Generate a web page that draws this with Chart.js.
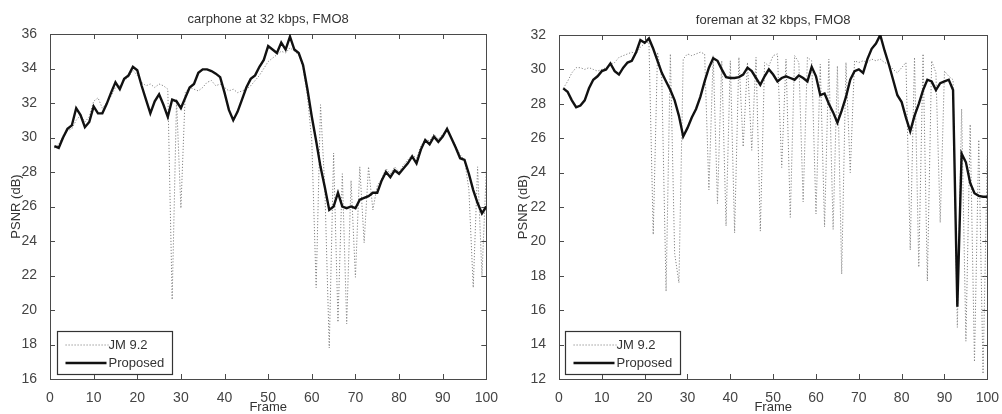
<!DOCTYPE html>
<html>
<head>
<meta charset="utf-8">
<script src="https://cdn.jsdelivr.net/npm/chart.js@4.4.1/dist/chart.umd.min.js"></script>
<style>
  body { margin: 0; background: #fff; }
  #wrap { position: relative; width: 1002px; height: 414px; }
  canvas { position: absolute; top: 0; }
  #c1 { left: 0; }
  #c2 { left: 501px; }
</style>
</head>
<body>
<div id="wrap">
  <canvas id="c1" width="501" height="414"></canvas>
  <canvas id="c2" width="501" height="414"></canvas>
</div>
<script>
var FONT = "'Liberation Sans', Arial, sans-serif";

// frame numbers 1..100
var frames = [];
for (var i = 1; i <= 100; i++) frames.push(i);

// carphone at 32 kbps, FMO8
var carphoneJM = [29.4, 29.6, 30.1, 30.4, 30.5, 31.0, 31.3, 30.9, 31.2, 32.1,
  32.3, 31.7, 32.0, 32.4, 32.9, 33.0, 33.3, 33.5, 33.9, 33.6,
  33.2, 33.0, 33.1, 32.9, 33.1, 33.0, 32.8, 20.6, 32.2, 25.9,
  32.6, 32.9, 32.8, 32.7, 32.9, 33.2, 33.3, 33.0, 33.1, 32.9,
  32.7, 32.8, 32.6, 32.7, 32.8, 33.0, 33.3, 33.6, 34.0, 34.4,
  34.6, 34.8, 35.0, 34.9, 35.2, 35.0, 34.8, 34.0, 32.4, 29.8,
  21.3, 31.9, 27.0, 17.8, 29.1, 19.3, 27.9, 19.2, 27.5, 21.9,
  28.3, 23.9, 28.3, 25.8, 27.2, 27.6, 28.2, 27.9, 28.3, 28.0,
  28.4, 28.7, 29.0, 28.8, 29.5, 29.9, 29.8, 30.2, 29.9, 30.2,
  30.4, 30.0, 29.5, 29.0, 28.7, 27.0, 21.3, 28.3, 22.0, 28.1];
var carphoneProposed = [29.5, 29.4, 30.0, 30.5, 30.7, 31.7, 31.3, 30.6, 30.9, 31.8,
  31.4, 31.4, 31.95, 32.6, 33.2, 32.8, 33.4, 33.6, 34.1, 33.9,
  33.0, 32.2, 31.4, 32.1, 32.5, 31.9, 31.2, 32.2, 32.1, 31.7,
  32.3, 32.9, 33.1, 33.75, 33.95, 33.95, 33.85, 33.7, 33.5, 32.6,
  31.6, 31.0, 31.5, 32.2, 32.9, 33.4, 33.6, 34.1, 34.5, 35.3,
  35.1, 34.9, 35.5, 35.1, 35.85, 35.1, 34.9, 34.2, 32.8, 31.2,
  29.8, 28.3, 27.1, 25.8, 26.0, 26.8, 26.0, 25.9, 26.0, 25.9,
  26.4, 26.5, 26.6, 26.8, 26.8, 27.5, 28.0, 27.7, 28.1, 27.9,
  28.2, 28.5, 28.9, 28.5, 29.3, 29.85, 29.6, 30.05, 29.75, 30.05,
  30.5, 29.95, 29.4, 28.8, 28.7, 27.9, 26.95, 26.2, 25.6, 26.0];

// foreman at 32 kbps, FMO8
var foremanJM = [28.9, 29.3, 29.8, 30.1, 30.1, 30.0, 30.1, 30.0, 29.9, 30.0,
  30.1, 30.3, 30.4, 30.7, 30.8, 30.9, 31.0, 30.9, 31.3, 31.5,
  31.6, 20.4, 31.0, 29.5, 17.1, 30.9, 19.3, 17.6, 30.6, 30.9,
  30.8, 30.9, 31.0, 30.9, 23.0, 30.8, 22.2, 30.5, 20.9, 30.5,
  20.5, 30.7, 25.5, 30.4, 25.3, 30.7, 20.6, 30.4, 30.2, 30.8,
  30.9, 24.3, 30.6, 21.4, 30.8, 30.4, 22.3, 30.7, 30.5, 21.6,
  30.3, 20.85, 30.6, 20.7, 30.2, 18.1, 30.4, 24.0, 30.5, 30.4,
  30.5, 30.4, 30.6, 30.5, 30.6, 30.4, 30.3, 30.0, 29.8, 30.1,
  30.4, 19.5, 30.7, 18.5, 30.9, 17.7, 30.5, 29.8, 21.1, 29.9,
  29.6, 29.4, 15.0, 27.7, 14.2, 26.8, 13.0, 25.9, 12.3, 25.0];
var foremanProposed = [28.9, 28.7, 28.2, 27.8, 27.9, 28.2, 28.9, 29.4, 29.6, 29.9,
  30.0, 30.35, 29.9, 29.7, 30.1, 30.4, 30.5, 31.0, 31.7, 31.55,
  31.8, 31.2, 30.5, 29.8, 29.3, 28.8, 28.2, 27.3, 26.1, 26.6,
  27.2, 27.7, 28.4, 29.3, 30.1, 30.65, 30.5, 30.0, 29.55, 29.5,
  29.5, 29.55, 29.7, 30.1, 29.9, 29.5, 29.1, 29.6, 30.0, 29.7,
  29.3, 29.5, 29.6, 29.5, 29.4, 29.65, 29.5, 29.3, 30.15, 29.6,
  28.5, 28.6, 28.0, 27.5, 26.9, 27.6, 28.4, 29.4, 29.9, 30.0,
  29.8, 30.6, 31.2, 31.5, 32.0, 31.1, 30.3, 29.4, 28.5, 28.1,
  27.2, 26.4, 27.3, 28.0, 28.8, 29.4, 29.3, 28.8, 29.2, 29.3,
  29.4, 28.8, 16.2, 25.1, 24.6, 23.4, 22.8, 22.65, 22.6, 22.6];

var seriesNames = ['JM 9.2', 'Proposed'];

function pts(vals) {
  return vals.map(function(v, k) { return {x: frames[k], y: v}; });
}

// box around the plot with inward tick marks on all four sides
var boxPlugin = {
  id: 'box',
  beforeDatasetsDraw: function(chart) {
    var ctx = chart.ctx, a = chart.chartArea;
    var xs = chart.scales.x, ys = chart.scales.y;
    ctx.save();
    ctx.strokeStyle = '#4a4a4a';
    ctx.lineWidth = 1;
    ctx.strokeRect(Math.round(a.left) + 0.5, Math.round(a.top) + 0.5,
      Math.round(a.right - a.left), Math.round(a.bottom - a.top));
    ctx.beginPath();
    xs.ticks.forEach(function(t) {
      var px = Math.round(xs.getPixelForValue(t.value)) + 0.5;
      ctx.moveTo(px, a.bottom); ctx.lineTo(px, a.bottom - 5);
      ctx.moveTo(px, a.top); ctx.lineTo(px, a.top + 5);
    });
    ys.ticks.forEach(function(t) {
      var py = Math.round(ys.getPixelForValue(t.value)) + 0.5;
      ctx.moveTo(a.left, py); ctx.lineTo(a.left + 5, py);
      ctx.moveTo(a.right, py); ctx.lineTo(a.right - 5, py);
    });
    ctx.stroke();
    ctx.restore();
  }
};

// legend box in the lower left corner of the plot
var legendBox = {
  id: 'legendBox',
  afterDatasetsDraw: function(chart, args, opts) {
    var ctx = chart.ctx, a = chart.chartArea;
    var x0 = Math.round(a.left + opts.dx) + 0.5, y0 = Math.round(a.bottom - 48) + 0.5;
    ctx.save();
    ctx.fillStyle = '#fff';
    ctx.fillRect(x0, y0, 115, 43);
    ctx.strokeStyle = '#333';
    ctx.lineWidth = 1.2;
    ctx.strokeRect(x0, y0, 115, 43);
    ctx.font = '13px ' + FONT;
    ctx.textBaseline = 'middle';
    ctx.fillStyle = '#333';
    // JM row
    var ds = chart.data.datasets;
    ctx.strokeStyle = ds[1].borderColor;
    ctx.lineWidth = ds[1].borderWidth;
    ctx.setLineDash(ds[1].borderDash);
    ctx.beginPath(); ctx.moveTo(x0 + 8, y0 + 13.5); ctx.lineTo(x0 + 51, y0 + 13.5); ctx.stroke();
    ctx.fillText(ds[1].label, x0 + 51, y0 + 14);
    // Proposed row
    ctx.setLineDash([]);
    ctx.strokeStyle = ds[0].borderColor;
    ctx.lineWidth = ds[0].borderWidth;
    ctx.beginPath(); ctx.moveTo(x0 + 8, y0 + 31.5); ctx.lineTo(x0 + 49, y0 + 31.5); ctx.stroke();
    ctx.fillText(ds[0].label, x0 + 51, y0 + 32);
    ctx.restore();
  }
};

function makeChart(id, title, jm, proposed, yMin, yMax, yWidth, padRight, titleTop, titleBottom, yTitlePad, legendDx) {
  return new Chart(document.getElementById(id), {
    type: 'line',
    data: {
      datasets: [{
        label: seriesNames[1],
        data: pts(proposed),
        borderColor: '#111',
        borderWidth: 2.4,
        pointRadius: 0,
        tension: 0,
        order: 0
      }, {
        label: seriesNames[0],
        data: pts(jm),
        borderColor: '#858585',
        borderWidth: 1,
        borderDash: [1.2, 1.8],
        pointRadius: 0,
        tension: 0,
        order: 1
      }]
    },
    options: {
      responsive: false,
      animation: false,
      layout: { padding: { left: 0, right: padRight, top: 0, bottom: 0 } },
      plugins: {
        legend: { display: false },
        tooltip: { enabled: false },
        title: {
          display: true,
          text: title,
          fullSize: false,
          color: '#333',
          font: { family: FONT, size: 13, weight: 'normal' },
          padding: { top: titleTop, bottom: titleBottom }
        },
        legendBox: { dx: legendDx }
      },
      scales: {
        x: {
          type: 'linear',
          min: 0, max: 100,
          grid: { display: false },
          border: { display: false },
          ticks: { stepSize: 10, padding: 3, maxRotation: 0, color: '#444', font: { family: FONT, size: 14 } },
          title: { display: true, text: 'Frame', color: '#333', font: { family: FONT, size: 13, lineHeight: 1 }, padding: { top: 0, bottom: 0 } },
          afterFit: function(s) { s.height = 35; }
        },
        y: {
          min: yMin, max: yMax,
          grid: { display: false },
          border: { display: false },
          ticks: { stepSize: 2, padding: 5, color: '#444', font: { family: FONT, size: 14 } },
          title: { display: true, text: 'PSNR (dB)', color: '#333', font: { family: FONT, size: 13 }, padding: { top: yTitlePad, bottom: 0 } },
          afterFit: function(s) { s.width = yWidth; }
        }
      }
    },
    plugins: [boxPlugin, legendBox]
  });
}

makeChart('c1', 'carphone at 32 kbps, FMO8', carphoneJM, carphoneProposed, 16, 36, 50, 14, 12, 6.4, 9, 7);
makeChart('c2', 'foreman at 32 kbps, FMO8', foremanJM, foremanProposed, 12, 32, 58, 9, 12.5, 6.9, 15, 6);
</script>
</body>
</html>
